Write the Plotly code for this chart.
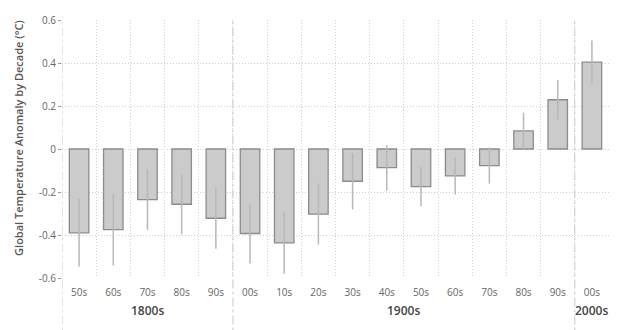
import plotly.graph_objects as go

decades = ["50s", "60s", "70s", "80s", "90s", "00s", "10s", "20s", "30s", "40s",
           "50s", "60s", "70s", "80s", "90s", "00s"]
centuries = ["1800s", "1900s", "2000s"]
century_sizes = [5, 10, 1]
anomaly = [-0.390, -0.375, -0.235, -0.257, -0.322, -0.393, -0.437, -0.303, -0.150,
           -0.087, -0.175, -0.125, -0.077, 0.084, 0.229, 0.404]
uncertainty = [0.157, 0.167, 0.141, 0.140, 0.142, 0.140, 0.143, 0.141, 0.131,
               0.106, 0.091, 0.087, 0.084, 0.085, 0.092, 0.101]
y_ticks = [-0.6, -0.4, -0.2, 0, 0.2, 0.4, 0.6]
y_ticktext = ["-0.6", "-0.4", "-0.2", "0", "0.2", "0.4", "0.6"]

xpos = list(range(len(decades)))
FONT = "Open Sans"
GRID = dict(gridcolor="#cfcfcf", griddash="1px,2px", gridwidth=1)

fig = go.Figure()
fig.add_trace(go.Bar(
    x=xpos, y=anomaly, width=0.57,
    marker=dict(color="#cbcbcb", line=dict(color="#8c8c8c", width=1.3)),
    error_y=dict(type="data", array=uncertainty, visible=True,
                 color="#b8b8b8", thickness=1.5, width=0),
    hoverinfo="skip",
))

# group dividers (dash-dot) and group labels
start = 0
boundaries = [-0.5]
for name, n in zip(centuries, century_sizes):
    center = start + (n - 1) / 2
    fig.add_annotation(x=center, xref="x", y=-0.125, yref="paper",
                       text=name, showarrow=False, yanchor="middle",
                       font=dict(family=FONT, size=12, color="#444444", weight=600))
    start += n
    if start < len(decades):
        boundaries.append(start - 0.5)
for b in boundaries:
    fig.add_shape(type="line", x0=b, x1=b, xref="x", y0=-0.25, y1=1, yref="paper",
                  line=dict(color="#c8c8c8", width=1, dash="dashdot"), layer="below")

fig.add_annotation(x=0, xref="paper", xshift=-43, y=0.543, yref="paper",
                   text="Global Temperature Anomaly by Decade (°C)", textangle=-90,
                   showarrow=False, xanchor="center", yanchor="middle",
                   font=dict(family=FONT, size=11, color="#555555", weight=600))

fig.update_xaxes(
    range=[-0.5, 15.5], tickmode="array", tickvals=xpos, ticktext=decades,
    showgrid=False, zeroline=False, showline=False,
    ticks="outside", ticklen=5, tickcolor="rgba(0,0,0,0)",
    tickfont=dict(family=FONT, size=10, color="#666666"),
    minor=dict(tick0=-0.5, dtick=1, showgrid=True, ticks="", **GRID),
)
fig.update_yaxes(
    range=[-0.6, 0.6], tickmode="array", tickvals=y_ticks, ticktext=y_ticktext,
    showgrid=True, **GRID,
    zeroline=False, showline=False,
    ticks="outside", ticklen=3, tickcolor="#999999",
    tickfont=dict(family=FONT, size=10, color="#666666"),
)
fig.update_layout(
    width=620, height=330,
    margin=dict(l=62, r=11, t=20, b=52),
    plot_bgcolor="white", paper_bgcolor="white",
    showlegend=False, bargap=0.4,
)
fig.write_html("out.html")
